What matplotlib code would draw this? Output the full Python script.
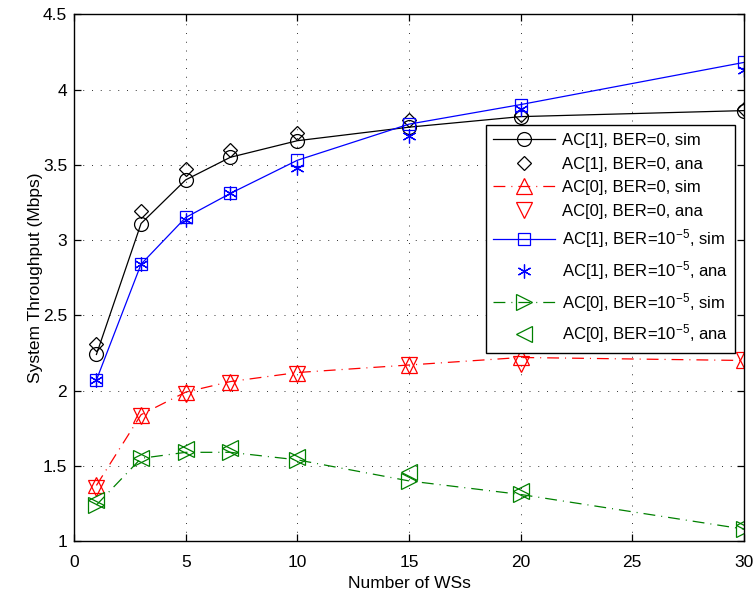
import numpy as np
from matplotlib import pyplot as plt

# number of wireless stations
ws = [1, 3, 5, 7, 10, 15, 20, 30]

# system throughput (Mbps)
ac1_ber0_sim = [2.24, 3.11, 3.40, 3.55, 3.66, 3.75, 3.82, 3.86]
ac1_ber0_ana = [2.31, 3.19, 3.47, 3.60, 3.71, 3.80, 3.83, 3.87]
ac0_ber0_sim = [1.37, 1.84, 1.99, 2.06, 2.12, 2.17, 2.22, 2.20]
ac0_ber0_ana = [1.35, 1.83, 1.98, 2.05, 2.11, 2.17, 2.18, 2.20]
ac1_ber5_sim = [2.07, 2.84, 3.15, 3.31, 3.53, 3.77, 3.90, 4.18]
ac1_ber5_ana = [2.07, 2.84, 3.13, 3.31, 3.48, 3.69, 3.87, 4.13]
ac0_ber5_sim = [1.24, 1.55, 1.59, 1.59, 1.54, 1.40, 1.31, 1.08]
ac0_ber5_ana = [1.27, 1.55, 1.61, 1.62, 1.56, 1.46, 1.33, 1.11]

labels = ['AC[1], BER=0, sim', 'AC[1], BER=0, ana',
          'AC[0], BER=0, sim', 'AC[0], BER=0, ana',
          r'AC[1], BER=10$^{-5}$, sim', r'AC[1], BER=10$^{-5}$, ana',
          r'AC[0], BER=10$^{-5}$, sim', r'AC[0], BER=10$^{-5}$, ana']

plt.rcParams['font.family'] = ['Liberation Sans', 'DejaVu Sans']
plt.rcParams['mathtext.fontset'] = 'custom'
plt.rcParams['mathtext.rm'] = 'Liberation Sans'
plt.rcParams['mathtext.it'] = 'Liberation Sans:italic'

green = (0, 0.5, 0)
asterisk = (6, 2, 0)
dashdot = (0, (9.5, 4.8, 0.8, 4.8))

fig = plt.figure(figsize=(7.56, 5.94), dpi=100)
ax = fig.add_axes([0.098, 0.089, 0.886, 0.887])

mk = dict(markerfacecolor='none', markeredgewidth=0.9)
ax.plot(ws, ac1_ber0_sim, '-', color='k', lw=0.9, marker='o', markersize=10, label=labels[0], **mk)
ax.plot(ws, ac1_ber0_ana, color='k', marker='D', markersize=7.5, linestyle='none', label=labels[1], **mk)
ax.plot(ws, ac0_ber0_sim, linestyle=dashdot, color='r', lw=0.9, marker='^', markersize=11, label=labels[2], **mk)
ax.plot(ws, ac0_ber0_ana, color='r', marker='v', markersize=11, linestyle='none', label=labels[3], **mk)
ax.plot(ws, ac1_ber5_sim, '-', color='b', lw=0.9, marker='s', markersize=9, label=labels[4], **mk)
ax.plot(ws, ac1_ber5_ana, color='b', marker=asterisk, markersize=10, linestyle='none', label=labels[5],
        markeredgewidth=0.9)
ax.plot(ws, ac0_ber5_sim, linestyle=dashdot, color=green, lw=0.9, marker='>', markersize=11, label=labels[6], **mk)
ax.plot(ws, ac0_ber5_ana, color=green, marker='<', markersize=11, linestyle='none', label=labels[7], **mk)

ax.set_xlim(0, 30)
ax.set_ylim(1, 4.5)
ax.set_xticks(np.arange(0, 31, 5))
ax.set_yticks(np.arange(1, 4.51, 0.5))
ax.set_yticklabels(['1', '1.5', '2', '2.5', '3', '3.5', '4', '4.5'])
ax.tick_params(direction='in', top=True, right=True, length=5, width=0.9, labelsize=12.5)
ax.tick_params(axis='x', pad=10)
ax.tick_params(axis='y', pad=5)
ax.grid(True, color='0.2', linestyle=(0, (1, 8)), linewidth=0.7)
for s in ax.spines.values():
    s.set_linewidth(1.0)

ax.set_xlabel('Number of WSs', fontsize=12.5, labelpad=4)
ax.set_ylabel('System Throughput (Mbps)', fontsize=12.5, labelpad=0)

leg = ax.legend(loc='upper right', bbox_to_anchor=(0.987, 0.789), fontsize=12,
                handlelength=3.7, labelspacing=0.52, borderpad=0.45, borderaxespad=0,
                handletextpad=0.4, fancybox=False, framealpha=1, edgecolor='k')
leg.get_frame().set_linewidth(1.0)

plt.savefig('out.png', dpi=100)
